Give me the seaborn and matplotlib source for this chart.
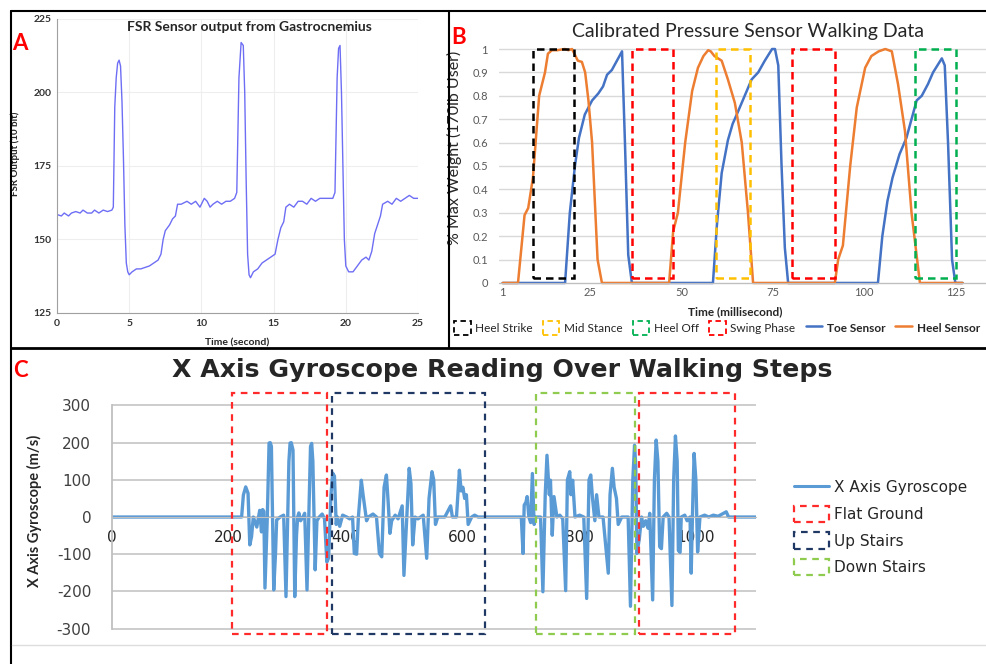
import numpy as np
import seaborn as sns
import matplotlib.pyplot as plt
from matplotlib.patches import Rectangle, Patch
from matplotlib.lines import Line2D

W, H = 986, 664

# --- A: FSR sensor on gastrocnemius (time in s, 10 bit output)
fsr_time = [0.0, 0.3, 0.5, 0.8, 1.0, 1.3, 1.6, 1.8, 2.1, 2.4, 2.6, 2.9, 3.2, 3.5, 3.8, 3.9,
            4.0, 4.1, 4.2, 4.3, 4.4, 4.5, 4.6, 4.7, 4.8, 4.9, 5.0, 5.2, 5.5, 5.8, 6.1, 6.4,
            6.7, 7.0, 7.2, 7.35, 7.5, 7.8, 8.0, 8.2, 8.35, 8.6, 9.0, 9.3, 9.6, 9.9, 10.2,
            10.4, 10.6, 10.8, 11.1, 11.4, 11.7, 12.0, 12.3, 12.45, 12.6, 12.75, 12.9, 13.0,
            13.1, 13.2, 13.3, 13.4, 13.6, 13.9, 14.2, 14.5, 14.8, 15.1, 15.3, 15.5, 15.7,
            15.85, 16.1, 16.4, 16.7, 17.0, 17.3, 17.6, 17.9, 18.2, 18.5, 18.8, 19.1, 19.25,
            19.4, 19.5, 19.6, 19.7, 19.8, 19.9, 20.0, 20.2, 20.5, 20.8, 21.1, 21.4, 21.6,
            21.8, 22.0, 22.2, 22.4, 22.55, 22.9, 23.2, 23.5, 23.8, 24.1, 24.4, 24.7, 25.0]
fsr_value = [158.5, 158, 159, 158, 159, 159.5, 159, 160, 159, 159, 160, 159, 160, 159.5, 160, 161,
             195, 205, 210, 211, 209, 197, 178, 155, 142, 139, 138, 139, 140, 140, 140.5, 141,
             142, 143, 145, 150, 153, 155, 157, 158, 162, 162, 163, 162, 163, 161, 164,
             163, 161, 162, 163, 162, 163, 163, 164, 166, 205, 217, 216, 200,
             170, 145, 138, 137, 139, 140, 142, 143, 144, 145, 150, 154, 156,
             161, 162, 161, 163, 163, 162, 164, 163, 164, 164, 164, 164, 166,
             205, 215, 216, 200, 175, 150, 141, 139, 139, 141, 143, 144, 143,
             146, 152, 155, 158, 162, 163, 162, 164, 163, 164, 165, 164, 164]

# --- B: calibrated pressure sensors
toe_time = [1, 18.1, 19.4, 20.8, 21.9, 23.5, 25.5, 27.2, 28.5, 29.6, 30.9, 32.3, 33.7, 34.5,
            35.4, 36.4, 58.6, 59.7, 61, 62.7, 64, 65.4, 67.3, 69.2, 71, 72.8, 74.8, 75.6,
            76.5, 77.4, 78.3, 79.2, 103.8, 105, 106.4, 107.8, 109.7, 111.6, 113, 114.4,
            115.8, 117.5, 118.9, 121.3, 122.1, 123, 124.1, 125, 127]
toe_weight = [0, 0, 0.3, 0.5, 0.62, 0.72, 0.78, 0.81, 0.84, 0.89, 0.91, 0.95, 0.99, 0.6,
              0.12, 0, 0, 0.25, 0.47, 0.61, 0.68, 0.73, 0.8, 0.87, 0.9, 0.95, 1.0, 1.0,
              0.93, 0.5, 0.15, 0, 0, 0.2, 0.35, 0.45, 0.55, 0.62, 0.7, 0.78,
              0.8, 0.85, 0.9, 0.96, 0.93, 0.6, 0.1, 0, 0]
heel_time = [1, 5.2, 7, 8, 9.3, 11, 12.6, 13.4, 14.5, 16, 18, 19, 20, 21.6, 22.7, 23.6, 24.5,
             25.5, 27, 28.2, 46.6, 47.7, 49, 51, 52.9, 54.5, 56, 57.3, 58, 59, 61, 62.7,
             64.6, 66.5, 68.2, 69.6, 92, 92.9, 94.2, 96.2, 98, 100.3, 102, 104, 105.8,
             107.6, 109.3, 111.2, 113, 115.3, 127]
heel_weight = [0, 0, 0.29, 0.32, 0.45, 0.8, 0.9, 0.98, 0.995, 0.995, 1.0, 0.995, 1.0, 0.95,
               0.945, 0.9, 0.78, 0.6, 0.1, 0, 0, 0.22, 0.3, 0.6, 0.82, 0.92, 0.97, 0.995,
               0.99, 0.97, 0.95, 0.87, 0.77, 0.6, 0.3, 0, 0, 0.1, 0.16, 0.5, 0.75, 0.92,
               0.97, 0.99, 1.0, 0.99, 0.85, 0.65, 0.3, 0, 0]
phase_names = ["Heel Strike", "Mid Stance", "Heel Off", "Swing Phase"]
phase_colors = {"Heel Strike": "#000000", "Mid Stance": "#FFC000",
                "Heel Off": "#00B050", "Swing Phase": "#FF0000"}
box_phase = ["Heel Strike", "Swing Phase", "Mid Stance", "Swing Phase", "Heel Off"]
box_start = [9.3, 36.4, 59.5, 80.3, 114.0]
box_end = [20.5, 47.7, 68.8, 92.0, 125.2]
b_xticks = [1, 25, 50, 75, 100, 125]
b_yticks = [0, 0.1, 0.2, 0.3, 0.4, 0.5, 0.6, 0.7, 0.8, 0.9, 1]

# --- C: x axis gyroscope
gyro_step = [0, 222, 225, 229, 233, 236, 239, 242, 248, 253, 256, 258, 260, 262, 266, 269, 271,
             273, 277, 280, 282, 288, 294, 298, 301, 303, 305, 307, 310, 313, 316, 318, 320,
             323, 327, 330, 334, 337, 340, 342, 344, 348, 351, 355, 360, 364, 368, 371, 375,
             378, 381, 384, 386, 390, 395, 402, 407, 412, 415, 419, 422, 427, 430, 436, 439,
             447, 453, 458, 462, 466, 470, 473, 476, 479, 485, 490, 497, 500, 505, 509, 512,
             515, 519, 524, 533, 539, 543, 548, 551, 554, 558, 570, 580, 583, 590, 595, 598,
             601, 604, 607, 610, 616, 621, 627, 701, 704, 706, 709, 711, 714, 717, 720, 723,
             726, 734, 738, 742, 745, 749, 751, 754, 757, 762, 767, 772, 777, 780, 784, 786,
             789, 793, 801, 808, 813, 817, 820, 823, 827, 830, 834, 841, 850, 853, 857, 860,
             864, 867, 873, 884, 888, 892, 895, 897, 899, 903, 907, 910, 914, 918, 921, 926,
             929, 932, 935, 938, 941, 944, 950, 954, 959, 962, 965, 968, 970, 973, 975, 981,
             985, 990, 992, 995, 997, 1000, 1003, 1007, 1015, 1022, 1030, 1038, 1045, 1052,
             1056, 1103]
gyro_value = [0, 0, 59, 81, 64, -75, -53, 0, -27, 18, -40, 20, 15, -191, 0, 199, 200,
              190, -196, -100, -8, 0, 5, -214, 0, 150, 199, 200, 180, -214, -50, 0, 11,
              -10, 0, 10, -196, 0, 190, 198, 150, -142, -10, 0, 8, -5, -121, -110, 60,
              118, 110, -20, 0, -25, 5, 0, -5, 0, -98, -100, 0, 99, 60, -10, 0,
              8, 0, -98, -107, 80, 113, 40, -44, -10, 5, -5, 30, -157, 0, 131, 90,
              -75, 0, -5, 5, -111, 50, 122, 100, -20, 0, 0, 30, 0, 0, 126, 70,
              80, 50, 60, -20, 0, 5, 0, 0, -98, 32, 40, 55, 0, -15, 117, -20,
              0, 0, -201, 60, 166, 60, 99, -49, 55, 0, 5, -5, -198, 100, 122, 60,
              99, 0, 5, 0, -219, 100, 113, 50, -10, 60, 0, 0, -151, 60, 131, 80,
              50, -20, 0, 0, -240, 100, 193, 140, -98, -60, 0, -25, -10, -30, 10, -223,
              100, 207, 150, -80, -85, 0, 10, 0, -238, 100, 218, 150, -90, -95, 0, 5,
              -10, 0, -151, 60, 171, 100, -94, 0, 5, 0, 5, 2, 8, 14,
              0, 0]
terrain_names = ["Flat Ground", "Up Stairs", "Down Stairs"]
terrain_colors = {"Flat Ground": "#FF2A2A", "Up Stairs": "#203864", "Down Stairs": "#8FCB4F"}
terrain_box = ["Flat Ground", "Up Stairs", "Down Stairs", "Flat Ground"]
terrain_start = [205, 377, 726, 902]
terrain_end = [368, 639, 896, 1067]
c_xticks = [0, 200, 400, 600, 800, 1000]
c_yticks = [-300, -200, -100, 0, 100, 200, 300]

sns.set_style("white")
plt.rcParams['font.family'] = ['Lato', 'DejaVu Sans']
plt.rcParams['axes.unicode_minus'] = False

fig = plt.figure(figsize=(W / 100, H / 100), dpi=100)


def px_axes(l, t, r, b):
    return fig.add_axes([l / W, 1 - b / H, (r - l) / W, (b - t) / H])


def fline(x0, y0, x1, y1, color="black", lw=1.5):
    fig.add_artist(Line2D([x0 / W, x1 / W], [1 - y0 / H, 1 - y1 / H],
                          transform=fig.transFigure, color=color, lw=lw))


# ---------- Panel A
axA = px_axes(57, 19, 418, 313)
sns.lineplot(x=fsr_time, y=fsr_value, ax=axA, color="#6E6EF5", linewidth=1.0)
axA.set_xlim(0, 25)
axA.set_ylim(125, 225)
axA.set_xticks([0, 5, 10, 15, 20, 25])
axA.set_yticks([125, 150, 175, 200, 225])
axA.grid(True, color="#EEEEEE", lw=0.8)
axA.set_axisbelow(True)
for s in ["top", "right"]:
    axA.spines[s].set_visible(False)
for s in ["left", "bottom"]:
    axA.spines[s].set_color("#A0A0A0")
axA.tick_params(labelsize=7.5, labelcolor="#333333", length=2, color="#A0A0A0", pad=2)
plt.setp(axA.get_xticklabels() + axA.get_yticklabels(), fontweight="bold")
axA.set_xlabel("Time (second)", fontsize=7.5, fontweight="bold")
axA.xaxis.set_label_coords(0.499, -0.088)
axA.set_ylabel("FSR Output (10 bit)", fontsize=7, fontweight="bold")
axA.yaxis.set_label_coords(-0.102, 0.54)
axA.text(0.532, 0.973, "FSR Sensor output from Gastrocnemius", transform=axA.transAxes,
         ha="center", va="center", fontsize=10, fontweight="bold")

# ---------- Panel B
axB = px_axes(499, 42, 986, 285.3)
sns.lineplot(x=toe_time, y=toe_weight, ax=axB, color="#4472C4", linewidth=1.8)
sns.lineplot(x=heel_time, y=heel_weight, ax=axB, color="#ED7D31", linewidth=1.8)
for ph, x0, x1 in zip(box_phase, box_start, box_end):
    axB.add_patch(Rectangle((x0, 0.02), x1 - x0, 0.98, fill=False,
                            edgecolor=phase_colors[ph], linestyle=(0, (3, 2)), lw=1.8,
                            clip_on=False, zorder=4))
axB.set_xlim(0, 133.4)
axB.set_ylim(-0.01, 1.03)
axB.set_xticks(b_xticks)
axB.set_yticks(b_yticks)
axB.set_yticklabels([f"{v:g}" for v in b_yticks])
axB.grid(True, axis="y", color="#D9D9D9", lw=1)
axB.grid(False, axis="x")
axB.set_axisbelow(True)
for s in ["top", "right", "left"]:
    axB.spines[s].set_visible(False)
axB.spines["bottom"].set_position(("data", 0))
axB.spines["bottom"].set_color("#BFBFBF")
axB.tick_params(axis="both", length=0, labelsize=8, labelcolor="#595959")
axB.tick_params(axis="y", pad=8)
axB.tick_params(axis="x", pad=3)
axB.set_ylabel("% Max Weight (170lb User)", fontsize=11.5)
axB.yaxis.set_label_coords(-0.076, 0.564)
axB.set_xlabel("Time (millisecond)", fontsize=8.5, fontweight="bold")
axB.xaxis.set_label_coords(0.485, -0.085)
fig.text(748 / W, 1 - 32 / H, "Calibrated Pressure Sensor Walking Data",
         ha="center", va="center", fontsize=14)

handlesB = [Patch(facecolor="none", edgecolor=phase_colors[n], linestyle=(0, (3, 2)), linewidth=1.3)
            for n in phase_names]
handlesB += [Line2D([], [], color="#4472C4", lw=1.8), Line2D([], [], color="#ED7D31", lw=1.8)]
legB = fig.legend(handlesB, phase_names + ["Toe Sensor", "Heel Sensor"], loc="center left",
                  bbox_to_anchor=(454 / W, 1 - 328 / H), ncol=6, frameon=False, fontsize=8.5,
                  handlelength=1.4, handleheight=1.5, handletextpad=0.4, columnspacing=0.85,
                  borderaxespad=0, borderpad=0)
for t in legB.get_texts()[4:]:
    t.set_fontweight("bold")

# ---------- Panel C
axC = px_axes(112, 390.6, 756, 636)
sns.lineplot(x=gyro_step, y=gyro_value, ax=axC, color="#5B9BD5", linewidth=2.4)
for tb, x0, x1 in zip(terrain_box, terrain_start, terrain_end):
    axC.add_patch(Rectangle((x0, -315), x1 - x0, 648, fill=False,
                            edgecolor=terrain_colors[tb], linestyle=(0, (3, 2.5)), lw=1.6,
                            clip_on=False, zorder=4))
axC.set_xlim(0, 1103)
axC.set_ylim(-320, 340)
axC.set_xticks(c_xticks)
axC.set_yticks(c_yticks)
axC.grid(True, axis="y", color="#C9C9C9", lw=1.3)
axC.grid(False, axis="x")
axC.set_axisbelow(True)
for s in ["top", "right"]:
    axC.spines[s].set_visible(False)
axC.spines["bottom"].set_position(("data", 0))
axC.spines["bottom"].set_color("#BFBFBF")
axC.spines["left"].set_bounds(-300, 300)
axC.spines["left"].set_color("#BFBFBF")
axC.spines["left"].set_linewidth(1.3)
axC.tick_params(axis="y", length=5, color="#C9C9C9", width=1.3, pad=10, labelsize=11,
                labelcolor="#404040")
axC.tick_params(axis="x", direction="in", length=3, color="#BFBFBF", pad=9, labelsize=11,
                labelcolor="#262626")
plt.setp(axC.get_xticklabels() + axC.get_yticklabels(), family="DejaVu Sans")
axC.set_ylabel("X Axis Gyroscope (m/s)", fontsize=10.5, fontweight="bold")
axC.yaxis.set_label_coords(-0.109, 0.51)
fig.text(502 / W, 1 - 370 / H, "X Axis Gyroscope Reading Over Walking Steps",
         ha="center", va="center", fontsize=18.2, fontweight="bold", family="DejaVu Sans")

handlesC = [Line2D([], [], color="#5B9BD5", lw=2.2)]
handlesC += [Patch(facecolor="none", edgecolor=terrain_colors[n], linestyle=(0, (3, 2.5)),
                   linewidth=1.6) for n in terrain_names]
fig.legend(handlesC, ["X Axis Gyroscope"] + terrain_names, loc="upper left",
           bbox_to_anchor=(794 / W, 1 - 479 / H), frameon=False,
           prop={"family": "DejaVu Sans", "size": 11}, handlelength=2.3, handleheight=1.3,
           labelspacing=0.65, handletextpad=0.35, borderaxespad=0, borderpad=0)

# ---------- panel letters and frame
for letter, x, y in [("A", 20, 43), ("B", 459, 37), ("C", 20, 370)]:
    fig.text(x / W, 1 - y / H, letter, color="#FF0000", fontsize=16, fontweight="bold",
             ha="center", va="center")

fline(11, 11, 986, 11)
fline(11, 11, 11, 664)
fline(449, 11, 449, 348)
fline(11, 348, 986, 348, lw=2)
fline(12, 645, 986, 645, color="#DDDDDD", lw=1)

fig.savefig("out.png", dpi=100)
